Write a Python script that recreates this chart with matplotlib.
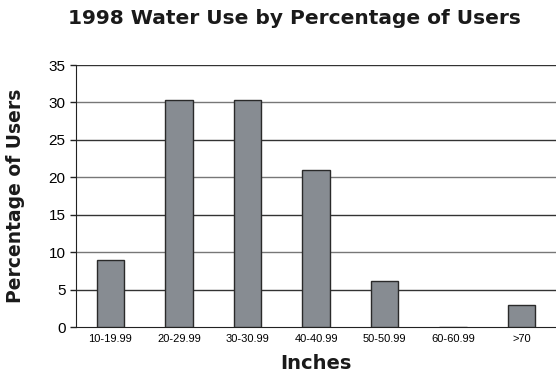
import matplotlib
matplotlib.use("Agg")
import matplotlib.pyplot as plt

categories = ["10-19.99", "20-29.99", "30-30.99", "40-40.99", "50-50.99", "60-60.99", ">70"]
percent_users = [9, 30.3, 30.3, 21, 6.1, 0, 2.9]
y_ticks = [0, 5, 10, 15, 20, 25, 30, 35]

plt.rcParams['font.family'] = ['Liberation Sans', 'DejaVu Sans']

fig = plt.figure(figsize=(5.56, 3.73), dpi=100)
ax = fig.add_axes([0.1367, 0.1233, 0.8633, 0.7024])

x = list(range(len(categories)))
ax.bar(x, percent_users, width=0.4, color='#878c92', edgecolor='#2a2a2a', linewidth=1.0, zorder=3)

ax.set_xlim(-0.5, 6.5)
ax.set_ylim(0, 35)
ax.set_yticks(y_ticks)
ax.set_xticks(x)
ax.set_xticklabels(categories, fontsize=8, stretch='condensed')
ax.tick_params(axis='y', labelsize=11, length=4, width=1, color='#222222')
ax.tick_params(axis='x', length=0, pad=5)

for yv in y_ticks[1:]:
    ax.axhline(yv, color='#333333' if yv % 10 else '#777777', linewidth=1.0, zorder=1)

ax.spines['right'].set_visible(False)
ax.spines['top'].set_visible(False)
ax.spines['left'].set_color('#222222')
ax.spines['bottom'].set_color('#222222')

bold = dict(family='DejaVu Sans', fontweight='bold', color='#1a1a1a')
ax.set_ylabel('Percentage of Users', fontsize=13.5, labelpad=17, **bold)
ax.set_xlabel('Inches', fontsize=14, labelpad=7, **bold)
fig.text(0.53, 0.95, '1998 Water Use by Percentage of Users', ha='center', va='center',
         fontsize=14.5, **bold)

fig.savefig('out.png', dpi=100)
